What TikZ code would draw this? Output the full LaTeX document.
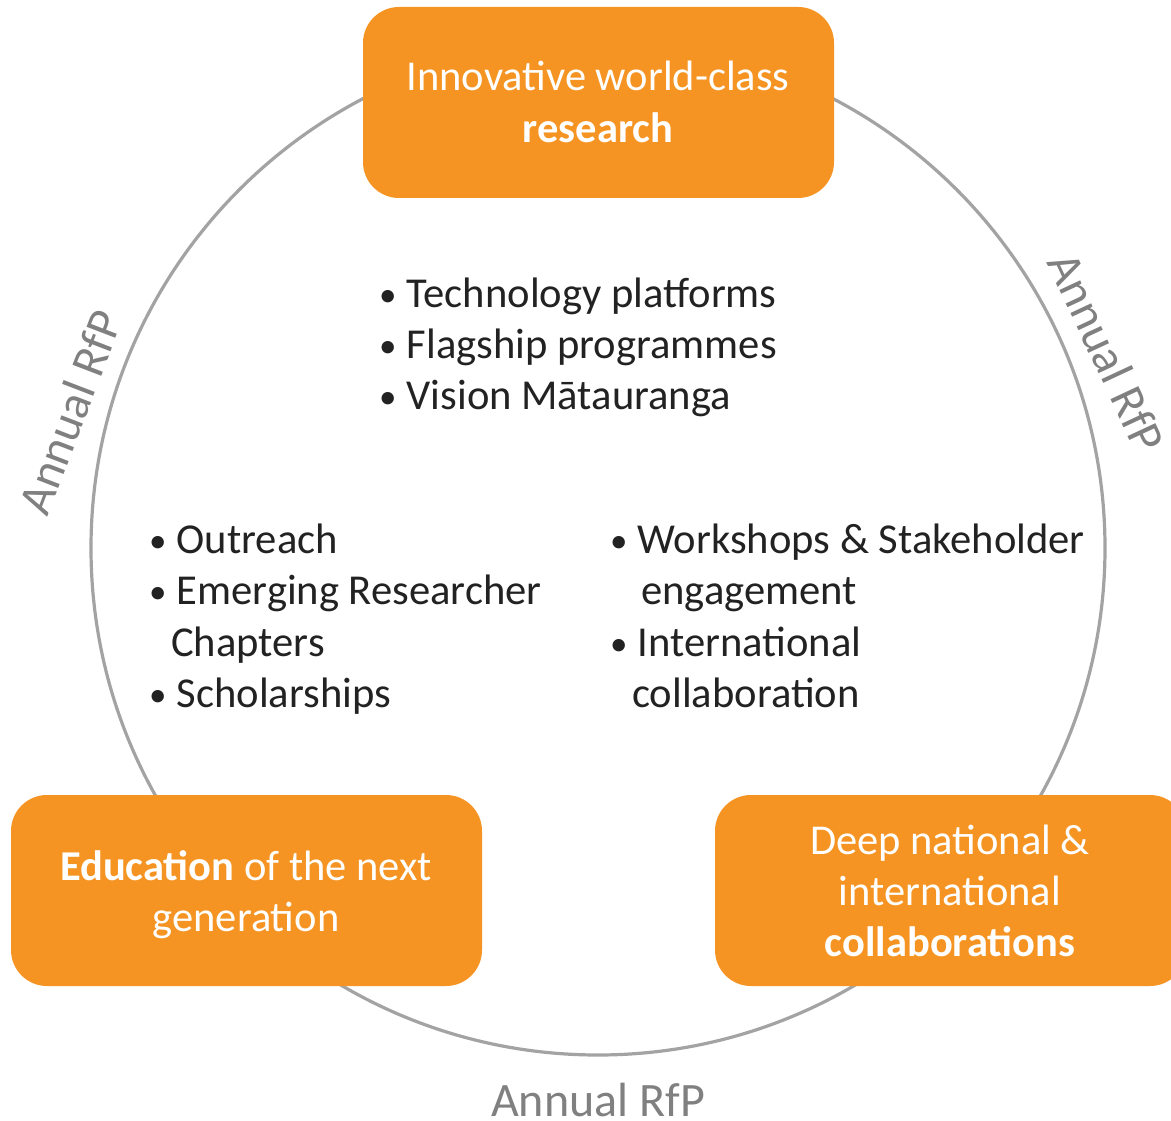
\documentclass[tikz,border=0pt]{standalone}
\usepackage{fontspec}
\setmainfont{Carlito}
\definecolor{boxorange}{HTML}{F59422}
\definecolor{ringgray}{HTML}{A3A3A3}
\definecolor{labelgray}{HTML}{808080}
\definecolor{bodytext}{HTML}{222222}
\newcommand\bul{\makebox[27.5pt][l]{\raisebox{0.5pt}{\fontsize{35}{35}\selectfont\textbullet}}}
\begin{document}
\begin{tikzpicture}[x=1pt,y=-1pt,
  hub/.style={fill=boxorange, rounded corners=36pt, minimum width=471pt, minimum height=191pt, inner sep=0pt},
  hubtext/.style={text=white, align=center, font=\fontsize{42.5}{51.5}\selectfont},
  item/.style={text=bodytext, anchor=base west, inner sep=0pt, font=\fontsize{42.6}{51}\selectfont},
  rfp/.style={text=labelgray, inner sep=0pt, text depth=0pt, font=\fontsize{48}{56}\selectfont}]
\useasboundingbox (0,0) rectangle (1171,1121);
\clip (0,0) rectangle (1171,1121);
\fill[white] (0,0) rectangle (1171,1121);
% ring
\draw[ringgray, line width=3.2pt] (598,548) circle (507);
% hubs
\node[hub] (research) at (598.5,102.5) {};
\node[hub] (education) at (246.5,890.5) {};
\node[hub] (collab) at (950.5,890.5) {};
\node[hubtext, anchor=base] (researchA) at (598,91) {Innovative world-class};
\node[hubtext, anchor=base] (researchB) at (598,143) {\textbf{research}};
\node[hubtext, anchor=base] (educationA) at (246,880) {\textbf{Education} of the next};
\node[hubtext, anchor=base] (educationB) at (246,931) {generation};
\node[hubtext, anchor=base] (collabA) at (950,854) {Deep national \&};
\node[hubtext, anchor=base] (collabB) at (950,905) {international};
\node[hubtext, anchor=base] (collabC) at (950,956) {\textbf{collaborations}};
% top list
\node[item] (t1) at (379,307) {\bul Technology platforms};
\node[item] (t2) at (379,358) {\bul Flagship programmes};
\node[item] (t3) at (379,409) {\bul Vision Mātauranga};
% left list
\node[item] (l1) at (149,553) {\bul Outreach};
\node[item] (l2) at (149,604) {\bul Emerging Researcher};
\node[item] (l3) at (171,656) {Chapters};
\node[item] (l4) at (149,707) {\bul Scholarships};
% right list
\node[item] (r1) at (610,553) {\bul Workshops \& Stakeholder};
\node[item] (r2) at (641,604) {engagement};
\node[item] (r3) at (610,656) {\bul International};
\node[item] (r4) at (632,707) {collaboration};
% Annual RfP labels
\node[rfp, rotate=69] (rfpL) at (70,412) {Annual RfP};
\node[rfp, rotate=-65] (rfpR) at (1107,352) {Annual RfP};
\node[rfp, anchor=base] (rfpB) at (598,1116) {Annual RfP};
\end{tikzpicture}
\end{document}
